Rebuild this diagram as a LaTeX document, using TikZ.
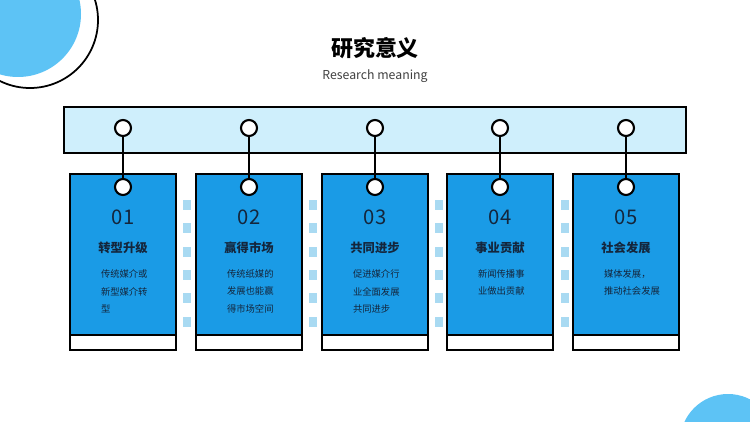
\documentclass[tikz,border=0pt]{standalone}
\usepackage{fontspec}
\setmainfont{Noto Sans CJK SC}
\definecolor{cardblue}{HTML}{1A9BE6}
\definecolor{barblue}{HTML}{CFEFFC}
\definecolor{dotblue}{HTML}{A9DAF2}
\definecolor{roundblue}{HTML}{5DC3F5}
\definecolor{ink}{HTML}{14263C}
\begin{document}
\begin{tikzpicture}[x=0.02cm,y=-0.02cm,
  card/.style={draw=black,line width=1.4pt,fill=cardblue},
  strip/.style={draw=black,line width=1.4pt,fill=white},
  pin/.style={circle,draw=black,line width=1.2pt,fill=white,minimum size=16*0.02cm,inner sep=0pt},
  num/.style={text=ink,font=\fontsize{11.5}{12}\selectfont},
  head/.style={text=ink,font=\bfseries\fontsize{7}{8}\selectfont},
  desc/.style={text=ink,align=left,text width=48*0.02cm,font=\fontsize{5.3}{10.2}\selectfont,anchor=north},
  dot/.style={fill=dotblue}]
\useasboundingbox (0,0) rectangle (750,422);
% corner discs
\fill[roundblue] (18,14) circle (63);
\draw[line width=1pt] (30,20) circle (68);
\fill[roundblue] (728,442) circle (48);
% title
\node[font=\bfseries\fontsize{12.5}{13}\selectfont] (title) at (375,48) {研究意义};
\node[text=black!75,font=\fontsize{7}{8}\selectfont] (sub) at (375,76) {Research meaning};
% bar
\draw[line width=1.4pt,fill=barblue] (64,107) rectangle (686,153);
\foreach \x/\n/\h/\d [count=\i] in {
  123/01/转型升级/{传统媒介或\\新型媒介转\\型},
  249/02/赢得市场/{传统纸媒的\\发展也能赢\\得市场空间},
  375/03/共同进步/{促进媒介行\\业全面发展\\共同进步},
  500/04/事业贡献/{新闻传播事\\业做出贡献},
  626/05/社会发展/{媒体发展，\\推动社会发展}}{
  \draw[strip] (\x-53,326) rectangle (\x+53,350);
  \draw[card] (\x-53,174) rectangle (\x+53,335);
  \node[pin] (top\i) at (\x,128) {};
  \node[pin] (low\i) at (\x,187) {};
  \draw[line width=1.4pt] (top\i) -- (low\i);
  \node[num] (num\i) at (\x,217) {\n};
  \node[head] (head\i) at (\x,248) {\h};
  \node[desc] (desc\i) at (\x+2,263) {\d};
}
\foreach \x in {187,313,439,565}{
  \foreach \y in {205,228,252,275,298,322}{
    \fill[dot] (\x-4,\y-5) rectangle (\x+4,\y+5);
  }
}
\end{tikzpicture}
\end{document}
